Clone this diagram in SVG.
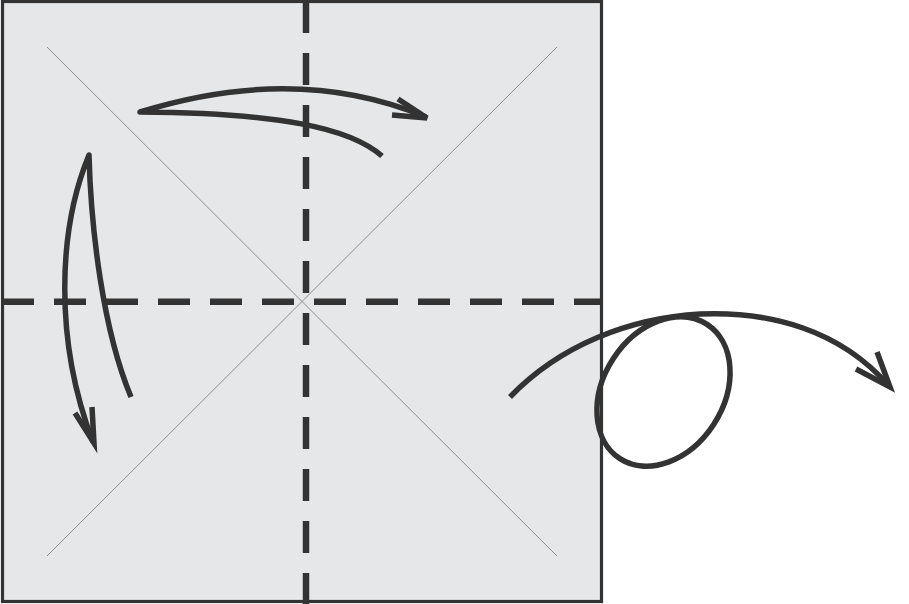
<svg xmlns="http://www.w3.org/2000/svg" width="909" height="604" viewBox="0 0 909 604">
<style>
.sheet{fill:#e6e7e8;stroke:#333;stroke-width:3.2}
.diag{stroke:#8f8f8f;stroke-width:1;fill:none}
.fold{stroke:#333;stroke-width:6.5;stroke-dasharray:32 20;fill:none}
.arrow{stroke:#333;stroke-width:5.5;fill:none;stroke-linejoin:round}
.head{stroke:#333;stroke-width:5.5;fill:none;stroke-linejoin:miter}
</style>
<rect width="909" height="604" fill="#fff"/>
<g id="paper">
<rect class="sheet" x="2.5" y="1.5" width="599" height="600"/>
<line class="diag" x1="47" y1="47" x2="557" y2="556"/>
<line class="diag" x1="557" y1="47" x2="47" y2="556"/>
</g>
<g id="folds">
<line class="fold" x1="2" y1="301.7" x2="602" y2="301.7"/>
<line class="fold" x1="306" y1="1" x2="306" y2="604"/>
</g>
<g id="connectors">
<path class="arrow" d="M382,156 C350,128 280,113 140,112 C230,84 330,77 426,117"/>
<polyline class="head" points="398,99 427,118 392,115"/>
<path class="arrow" d="M131,397 C103,330 91,230 89,155 C58,230 54,340 93,442"/>
<polyline class="head" points="75,413 94,443 92,407"/>
<path class="arrow" d="M510,397 C560,345 630,318 700,314 C770,311 840,330 888,385"/>
<ellipse class="arrow" cx="663.5" cy="391.5" rx="60" ry="80" transform="rotate(33 663.5 391.5)"/>
<polyline class="head" points="877,352 890,387 856,369"/>
</g>
</svg>
